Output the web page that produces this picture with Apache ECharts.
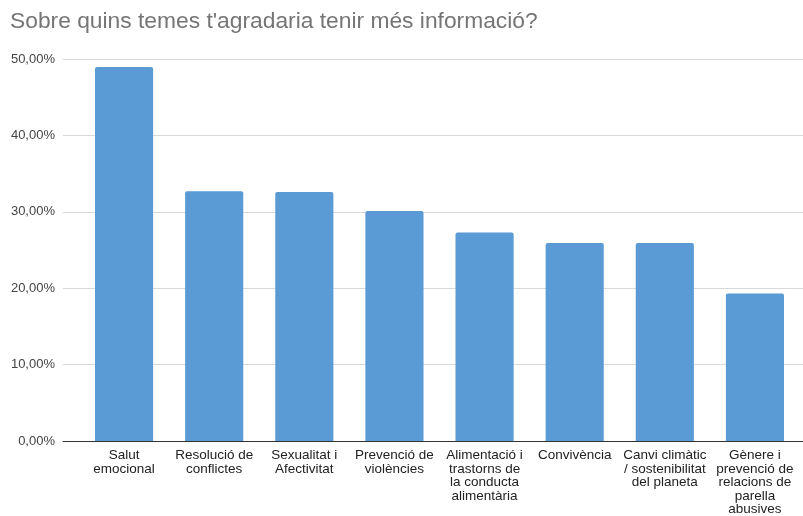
<!DOCTYPE html>
<html>
<head>
<meta charset="utf-8">
<script src="https://cdn.jsdelivr.net/npm/echarts@6/dist/echarts.min.js"></script>
<style>
  html, body { margin: 0; padding: 0; background: #fff; }
  #chart { width: 803px; height: 516px; }
</style>
</head>
<body>
<div id="chart"></div>
<script>
var titleText = "Sobre quins temes t'agradaria tenir més informació?";
// categories (line breaks as shown in the chart)
var categories = [
  'Salut\nemocional',
  'Resolució de\nconflictes',
  'Sexualitat i\nAfectivitat',
  'Prevenció de\nviolències',
  'Alimentació i\ntrastorns de\nla conducta\nalimentària',
  'Convivència',
  'Canvi climàtic\n/ sostenibilitat\ndel planeta',
  'Gènere i\nprevenció de\nrelacions de\nparella\nabusives'
];
// percentages
var values = [48.95, 32.7, 32.6, 30.1, 27.3, 25.9, 25.9, 19.3];
var yMin = 0, yMax = 50, yStep = 10;

var fontFam = "'Liberation Sans', Arial, sans-serif";

function pct(v) {
  return v.toFixed(2).replace('.', ',') + '%';
}

var myChart = echarts.init(document.getElementById('chart'));
myChart.setOption({
  animation: false,
  backgroundColor: '#fff',
  title: {
    text: titleText,
    left: 5,
    top: 5,
    textStyle: { fontFamily: fontFam, fontSize: 22.8, fontWeight: 'normal', color: '#757575' }
  },
  grid: [
    { left: 63, right: 0, top: 59, bottom: 75, outerBoundsMode: 'none', containLabel: false },  // gridlines + y labels
    { left: 79, right: 3, top: 59, bottom: 75, outerBoundsMode: 'none', containLabel: false }   // bars
  ],
  xAxis: [
    {
      gridIndex: 0, type: 'value', min: 0, max: 1,
      axisLine: { show: true, lineStyle: { color: '#333', width: 1 } },
      axisTick: { show: false }, axisLabel: { show: false }, splitLine: { show: false }
    },
    {
      gridIndex: 1, type: 'category', data: categories,
      axisLine: { show: false }, axisTick: { show: false },
      axisLabel: {
        interval: 0, margin: 8, color: '#222', fontFamily: fontFam,
        fontSize: 13.5, lineHeight: 13.5, align: 'center', verticalAlign: 'top'
      }
    }
  ],
  yAxis: [
    {
      gridIndex: 0, type: 'value', min: yMin, max: yMax, interval: yStep,
      axisLine: { show: false }, axisTick: { show: false },
      axisLabel: { formatter: pct, margin: 8, color: '#444', fontFamily: fontFam, fontSize: 13 },
      splitLine: { lineStyle: { color: '#d9d9d9', width: 1 } }
    },
    {
      gridIndex: 1, type: 'value', min: yMin, max: yMax, interval: yStep,
      show: false, splitLine: { show: false }
    }
  ],
  series: [
    {
      type: 'bar',
      xAxisIndex: 1, yAxisIndex: 1,
      data: values,
      barWidth: '64.5%',
      itemStyle: { color: '#5b9bd5', borderRadius: [2, 2, 0, 0] }
    }
  ]
});
</script>
</body>
</html>
